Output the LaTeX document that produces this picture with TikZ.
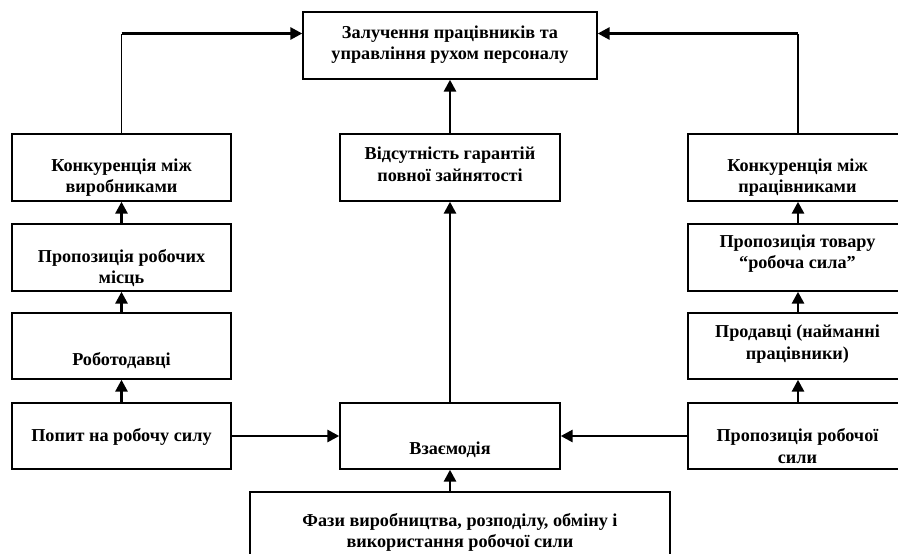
\documentclass[tikz,border=0pt]{standalone}
\usepackage{fontspec}
\setmainfont{Liberation Serif}
\usetikzlibrary{arrows.meta}
\begin{document}
\begin{tikzpicture}[x=1pt,y=-1pt,
  frame/.style={draw, line width=1.4pt, inner sep=0pt, minimum height=67pt},
  colbox/.style={frame, minimum width=219pt},
  midbox/.style={frame, minimum width=220pt},
  lbl/.style={font=\bfseries\fontsize{18.2}{21.5}\selectfont, align=center, inner sep=0pt},
  arr/.style={line width=2.8pt, -{Triangle[length=12pt,width=12pt]}},
  link/.style={line width=1.4pt}]
\useasboundingbox (0,0) rectangle (898,554);
\clip (0,0) rectangle (898,554);

% boxes
\node[frame, minimum width=294pt] (top) at (450,45.5) {};
\node[colbox] (kl) at (121.5,167.5) {};
\node[colbox] (pl) at (121.5,257.5) {};
\node[colbox, minimum height=66pt] (rl) at (121.5,346) {};
\node[colbox, minimum height=66pt] (dl) at (121.5,436) {};
\node[midbox] (vc) at (450,167.5) {};
\node[midbox, minimum height=66pt] (ic) at (450,436) {};
\node[frame, minimum width=420pt] (fz) at (460,525.5) {};
\node[colbox] (kr) at (797.5,167.5) {};
\node[colbox] (pr) at (797.5,257.5) {};
\node[colbox, minimum height=66pt] (sr) at (797.5,346) {};
\node[colbox, minimum height=66pt] (or) at (797.5,436) {};

% labels
\node[lbl] (ttop) at (450,44.5) {Залучення працівників та\\управління рухом персоналу};
\node[lbl] (tkl) at (121.5,177.5) {Конкуренція між\\виробниками};
\node[lbl] (tpl) at (121.5,268) {Пропозиція робочих\\місць};
\node[lbl] (trl) at (121.5,361) {Роботодавці};
\node[lbl] (tdl) at (121.5,436.5) {Попит на робочу силу};
\node[lbl] (tvc) at (450,164.5) {Відсутність гарантій\\повної зайнятості};
\node[lbl] (tic) at (450,449.5) {Взаємодія};
\node[lbl] (tfz) at (460,532.5) {Фази виробництва, розподілу, обміну і\\використання робочої сили};
\node[lbl] (tkr) at (797.5,177.5) {Конкуренція між\\працівниками};
\node[lbl] (tpr) at (797.5,253.5) {Пропозиція товару\\“робоча сила”};
\node[lbl] (tsr) at (797.5,344) {Продавці (найманні\\працівники)};
\node[lbl] (tor) at (797.5,446) {Пропозиція робочої\\сили};

% corner points of the two long feedback lines
\coordinate (cl) at (121.5,33.5);
\coordinate (cr) at (798,33.5);

% connectors
\draw[link] (kl.north) -- (cl);
\draw[arr] (cl) -- (cl -| top.west);
\draw[link] (kr.north -| cr) -- (cr);
\draw[arr] (cr) -- (cr -| top.east);

\draw[arr] (pl.north) -- (kl.south);
\draw[arr] (rl.north) -- (pl.south);
\draw[arr] (dl.north) -- (rl.south);

\draw[arr] (pr.north -| cr) -- (kr.south -| cr);
\draw[arr] (sr.north -| cr) -- (pr.south -| cr);
\draw[arr] (or.north -| cr) -- (sr.south -| cr);

\draw[arr] (vc.north) -- (top.south);
\draw[arr] (ic.north) -- (vc.south);
\draw[arr] (fz.north -| ic.south) -- (ic.south);

\draw[arr] (dl.east) -- (ic.west);
\draw[arr] (or.west) -- (ic.east);
\end{tikzpicture}
\end{document}
